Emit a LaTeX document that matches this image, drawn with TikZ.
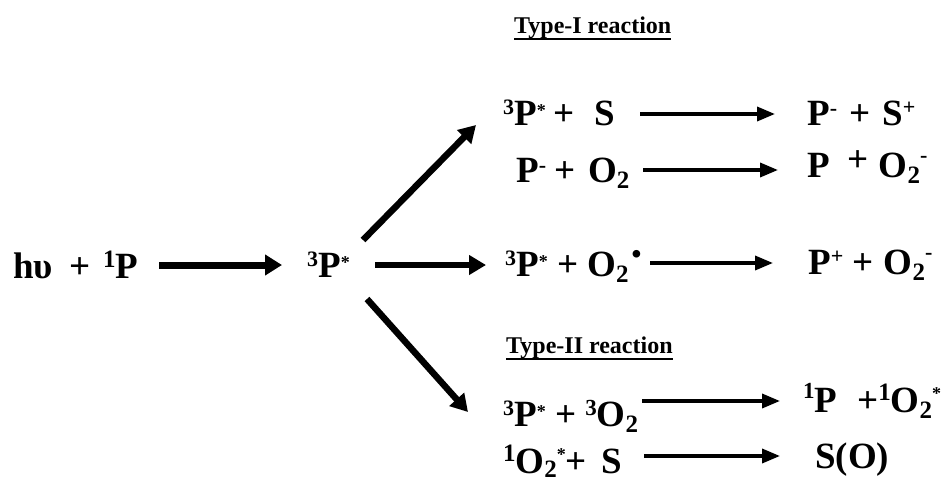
\documentclass[tikz,border=0pt]{standalone}
\usepackage{fontspec}
\setmainfont{Liberation Serif}
\usetikzlibrary{arrows.meta}
\newcommand{\sx}[3]{\raisebox{#2pt}{\fontsize{#1pt}{#1pt}\selectfont #3}}
\newcommand{\ulx}[1]{\setbox0=\hbox{#1}\rlap{\rule[-7pt]{\wd0}{2pt}}\box0}
\begin{document}
\begin{tikzpicture}[x=1pt,y=-1pt,
  txt/.style={anchor=base west, inner sep=0pt, font=\fontsize{37pt}{42pt}\selectfont\bfseries},
  lab/.style={anchor=base west, inner sep=0pt, font=\fontsize{24pt}{28pt}\selectfont\bfseries},
  bigarrow/.style={line width=6.5pt, -{Triangle[length=17pt,width=19pt]}},
  rxn/.style={line width=3.5pt, -{Triangle[length=18pt,width=14pt]}}]
\fill[white] (0,0) rectangle (947,482);
\useasboundingbox (0,0) rectangle (947,482);
% texts
\node[txt] (hv) at (13,278) {hυ\hspace{17pt}+\hspace{12pt}\sx{25}{11}{1}P};
\node[txt] (p3) at (307,277) {\sx{22}{11}{3}P\sx{18}{9}{*}};
\node[lab] (t1) at (514,33) {\ulx{Type-I reaction}};
\node[txt] (r1l) at (503,125) {\sx{22}{11}{3}P\sx{18}{9}{*}\hspace{8pt}+\hspace{20pt}S};
\node[txt] (r1r) at (807,125) {P\sx{22}{10}{-}\hspace{12pt}+\hspace{12pt}S\sx{22}{11}{+}};
\node[txt] (r2l) at (516,182) {P\sx{22}{10}{-}\hspace{8pt}+\hspace{13pt}O\sx{25}{-6}{2}};
\node[txt] (r2r) at (807,177) {P\hspace{18pt}\raisebox{6pt}{+}\hspace{10pt}O\sx{25}{-6}{2}\sx{22}{15}{-}};
\node[txt] (r3l) at (505,276) {\sx{22}{11}{3}P\sx{18}{9}{*} + O\sx{25}{-6}{2}\hspace{3pt}\sx{28}{13}{•}};
\node[txt] (r3r) at (808,274) {P\sx{22}{11}{+} + \hspace{1pt}O\sx{25}{-6}{2}\sx{22}{15}{-}};
\node[lab] (t2) at (506,353) {\ulx{Type-II reaction}};
\node[txt] (r4l) at (503,426) {\sx{22}{11}{3}P\sx{18}{9}{*} + \sx{23}{11}{3}O\sx{25}{-6}{2}};
\node[txt] (r4r) at (803,412) {\sx{23}{14}{1}P\hspace{20pt}+\sx{25}{12}{1}O\sx{25}{-6}{2}\sx{18}{13}{*}};
\node[txt] (r5l) at (503,473) {\sx{25}{12}{1}O\sx{25}{-4}{2}\sx{18}{13}{*}+\hspace{14pt}S};
\node[txt] (r5r) at (815,468) {S(O)};
% arrow end points
\coordinate (m0) at (159,265); \coordinate (m1) at (282,265);
\coordinate (u0) at (363,240); \coordinate (u1) at (476,125);
\coordinate (c0) at (375,265); \coordinate (c1) at (486,265);
\coordinate (d0) at (367,299); \coordinate (d1) at (468,412);
\coordinate (a1s) at (640,114); \coordinate (a1e) at (775,114);
\coordinate (a2s) at (643,170); \coordinate (a2e) at (778,170);
\coordinate (a3s) at (650,263); \coordinate (a3e) at (773,263);
\coordinate (a4s) at (642,401); \coordinate (a4e) at (780,401);
\coordinate (a5s) at (644,456); \coordinate (a5e) at (780,456);
% arrows
\draw[bigarrow, line width=7pt, -{Triangle[length=17pt,width=20pt]}] (m0) -- (m1);
\draw[bigarrow] (u0) -- (u1);
\draw[bigarrow] (c0) -- (c1);
\draw[bigarrow] (d0) -- (d1);
\draw[rxn] (a1s) -- (a1e);
\draw[rxn] (a2s) -- (a2e);
\draw[rxn] (a3s) -- (a3e);
\draw[rxn] (a4s) -- (a4e);
\draw[rxn] (a5s) -- (a5e);
\end{tikzpicture}
\end{document}
